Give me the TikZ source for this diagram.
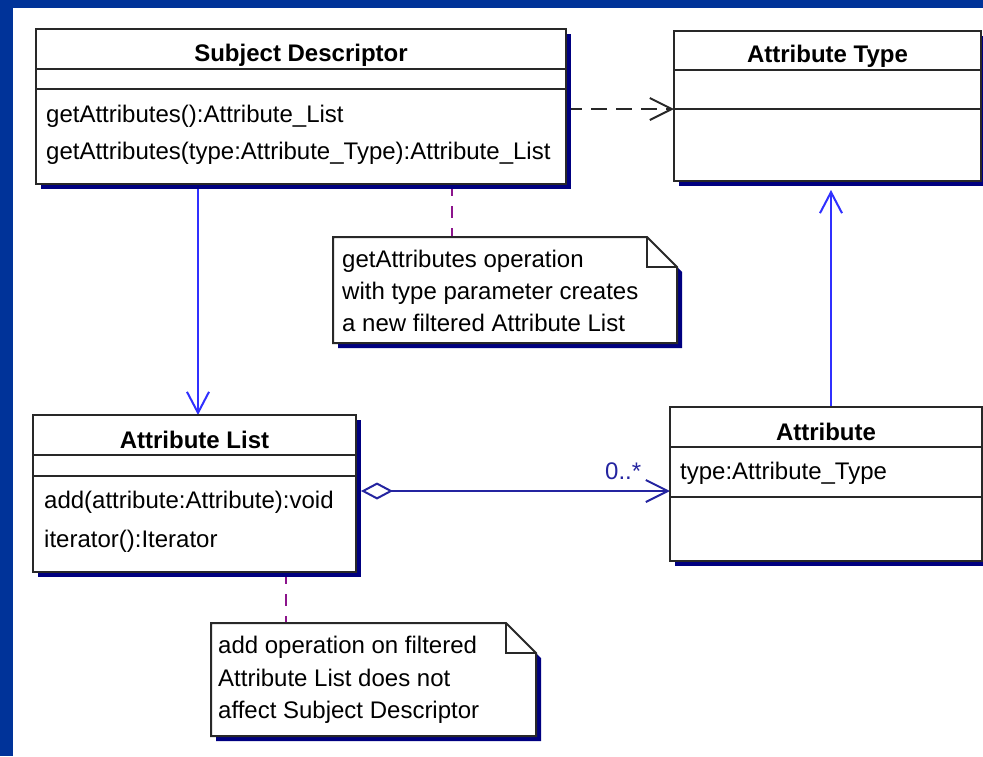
\documentclass[tikz,border=0pt]{standalone}
\usepackage{fontspec}
\setmainfont{Liberation Sans}
\usetikzlibrary{arrows.meta,calc}

\definecolor{framecol}{RGB}{0,51,153}
\definecolor{shadecol}{RGB}{0,0,128}
\definecolor{edgecol}{RGB}{40,40,40}
\definecolor{linkcol}{RGB}{48,48,255}
\definecolor{aggrcol}{RGB}{36,36,160}
\definecolor{notecol}{RGB}{140,20,140}

% outline of a UML note with a folded corner
\newcommand\notepath[1]{(#1.north west) -- ($(#1.north east)+(-30,0)$) -- ($(#1.north east)+(0,30)$) -- (#1.south east) -- (#1.south west) -- cycle}

\begin{document}
\begin{tikzpicture}[x=1pt,y=-1pt,
  font=\fontsize{24}{29}\selectfont,
  classbox/.style={draw=edgecol, line width=2pt, fill=white, rectangle, inner sep=0pt, outer sep=0pt},
  notebox/.style={rectangle, inner sep=0pt, outer sep=0pt},
  divider/.style={draw=edgecol, line width=2pt},
  shade/.style={fill=shadecol, transform canvas={xshift=5pt,yshift=-5pt}},
  title/.style={anchor=base, inner sep=0pt, font=\fontsize{24}{29}\selectfont\bfseries},
  item/.style={anchor=base west, inner sep=0pt},
  assoc/.style={draw=linkcol, line width=2pt, -{Straight Barb[length=21pt,width=22pt]}},
  depend/.style={draw=edgecol, line width=2pt, dash pattern=on 16pt off 9pt, -{Straight Barb[length=22pt,width=22pt]}},
  aggreg/.style={draw=aggrcol, line width=2pt, {Diamond[open,length=32pt,width=17pt]}-{Straight Barb[length=22pt,width=22pt]}},
  noteline/.style={draw=notecol, line width=2pt, dash pattern=on 12pt off 10pt},
  notedraw/.style={draw=edgecol, line width=2pt, fill=white, line join=miter},
]
\useasboundingbox (0,0) rectangle (983,756);
\fill[framecol] (0,0) rectangle (983,756);
\fill[white] (13,8) rectangle (983,756);

% class and note frames
\node[classbox, minimum width=530pt, minimum height=155pt, fill=none, draw=none] (sd) at (301,106.5) {};
\node[classbox, minimum width=307pt, minimum height=150pt, fill=none, draw=none] (at) at (827.5,106) {};
\node[classbox, minimum width=323pt, minimum height=157pt, fill=none, draw=none] (al) at (194.5,493.5) {};
\node[classbox, minimum width=312pt, minimum height=154pt, fill=none, draw=none] (a) at (826,484) {};
\node[notebox, minimum width=344pt, minimum height=106pt] (n1) at (505,290) {};
\node[notebox, minimum width=325pt, minimum height=113pt] (n2) at (373.5,679.5) {};

% connectors
\draw[assoc] (sd.south -| 198,0) -- (al.north -| 198,0);
\draw[depend] (sd.east |- 0,109) -- (at.west |- 0,109);
\draw[assoc, shorten >=9pt] (a.north -| 831,0) -- (at.south -| 831,0);
\draw[aggreg] ($(al.east |- 0,491)+(5,0)$) -- (a.west |- 0,491);
\draw[noteline] (sd.south -| 452,0) -- (n1.north -| 452,0);
\draw[noteline] (al.south -| 286,0) -- (n2.north -| 286,0);
\node[item, text=aggrcol] (mult) at (605,479) {0..*};

% drop shadows
\fill[shade] (sd.south west) rectangle (sd.north east);
\fill[shade] (at.south west) rectangle (at.north east);
\fill[shade] (al.south west) rectangle (al.north east);
\fill[shade] (a.south west) rectangle (a.north east);
\fill[shade] \notepath{n1};
\fill[shade] \notepath{n2};

% class boxes
\foreach \b in {sd,at,al,a}
  \filldraw[draw=edgecol, fill=white, line width=2pt] (\b.south west) rectangle (\b.north east);

% Subject Descriptor
\draw[divider] (sd.west |- 0,69) -- (sd.east |- 0,69);
\draw[divider] (sd.west |- 0,89) -- (sd.east |- 0,89);
\node[title] (sdT) at (sd.north |- 0,61) {Subject Descriptor};
\node[item] (sdO1) at (46,122) {getAttributes():Attribute\_List};
\node[item] (sdO2) at (46,159) {getAttributes(type:Attribute\_Type):Attribute\_List};

% Attribute Type
\draw[divider] (at.west |- 0,70) -- (at.east |- 0,70);
\draw[divider] (at.west |- 0,109) -- (at.east |- 0,109);
\node[title] (atT) at (at.north |- 0,62) {Attribute Type};

% Attribute List
\draw[divider] (al.west |- 0,455) -- (al.east |- 0,455);
\draw[divider] (al.west |- 0,476) -- (al.east |- 0,476);
\node[title] (alT) at (al.north |- 0,448) {Attribute List};
\node[item] (alO1) at (44,508) {add(attribute:Attribute):void};
\node[item] (alO2) at (44,547) {iterator():Iterator};

% Attribute
\draw[divider] (a.west |- 0,447) -- (a.east |- 0,447);
\draw[divider] (a.west |- 0,497) -- (a.east |- 0,497);
\node[title] (aT) at (a.north |- 0,440) {Attribute};
\node[item] (aA1) at (680,479) {type:Attribute\_Type};

% notes
\foreach \n in {n1,n2}{
  \filldraw[notedraw] \notepath{\n};
  \draw[edgecol, line width=2pt] ($(\n.north east)+(-30,0)$) -- ($(\n.north east)+(-30,30)$) -- ($(\n.north east)+(0,30)$);
}
\node[item] (n1L1) at (342,267) {getAttributes operation};
\node[item] (n1L2) at (342,299) {with type parameter creates};
\node[item] (n1L3) at (342,331) {a new filtered Attribute List};
\node[item] (n2L1) at (218,653) {add operation on filtered};
\node[item] (n2L2) at (218,686) {Attribute List does not};
\node[item] (n2L3) at (218,718) {affect Subject Descriptor};
\end{tikzpicture}
\end{document}
